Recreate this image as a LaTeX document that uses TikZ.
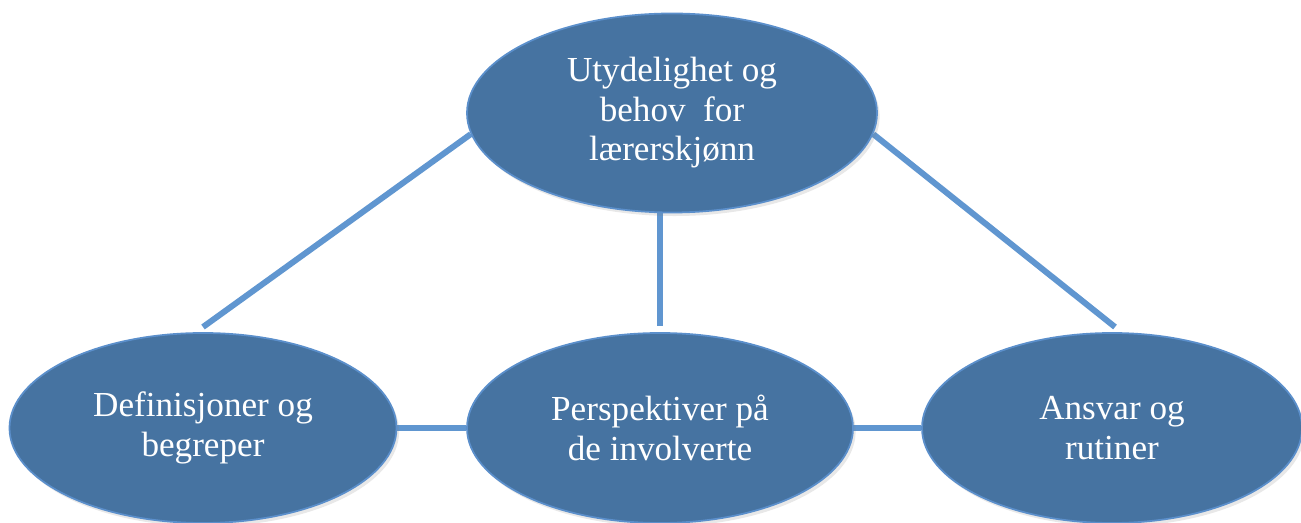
\documentclass[tikz,border=0pt]{standalone}
\usepackage{fontspec}
\setmainfont{Liberation Serif}
\usetikzlibrary{shapes.geometric, shadows, backgrounds}

\definecolor{ovalfill}{HTML}{4673A1}
\definecolor{ovaledge}{HTML}{5B8FCB}
\definecolor{linkblue}{HTML}{6096D0}

\begin{document}
\begin{tikzpicture}[
  oval/.style={ellipse, fill=ovalfill, draw=ovaledge, line width=1pt, inner sep=0pt,
    text=white, align=center, font=\fontsize{20}{22.5}\selectfont,
    drop shadow={opacity=0.18, shadow xshift=1.5pt, shadow yshift=-2pt}},
  link/.style={linkblue, line width=3.4pt}
]
\useasboundingbox (0,0) rectangle (26.02,-10.46);

\node[oval, minimum width=8.2cm, minimum height=3.98cm] (top) at (13.44,-2.26) {Utydelighet og\\behov\ \ for\\lærerskjønn};
\node[oval, minimum width=7.74cm, minimum height=3.8cm] (def) at (4.06,-8.56) {Definisjoner og\\begreper};
\node[oval, minimum width=7.72cm, minimum height=3.8cm] (pers) at (13.2,-8.56) {Perspektiver på\\de involverte};
\node[oval, minimum width=7.6cm, minimum height=3.8cm] (ansvar) at (22.24,-8.56) {Ansvar og\\rutiner};

\coordinate (defend) at (4.06,-6.54);
\coordinate (persend) at ([yshift=0.12cm]pers.north);
\coordinate (ansvarend) at (22.3,-6.54);

\begin{scope}[on background layer]
\draw[link] (top.186) -- (defend);
\draw[link] (top.-6) -- (ansvarend);
\draw[link] (pers |- top.south) -- (persend);
\draw[link] (def.east) -- (pers.west);
\draw[link] (pers.east) -- (ansvar.west);
\end{scope}
\end{tikzpicture}
\end{document}
